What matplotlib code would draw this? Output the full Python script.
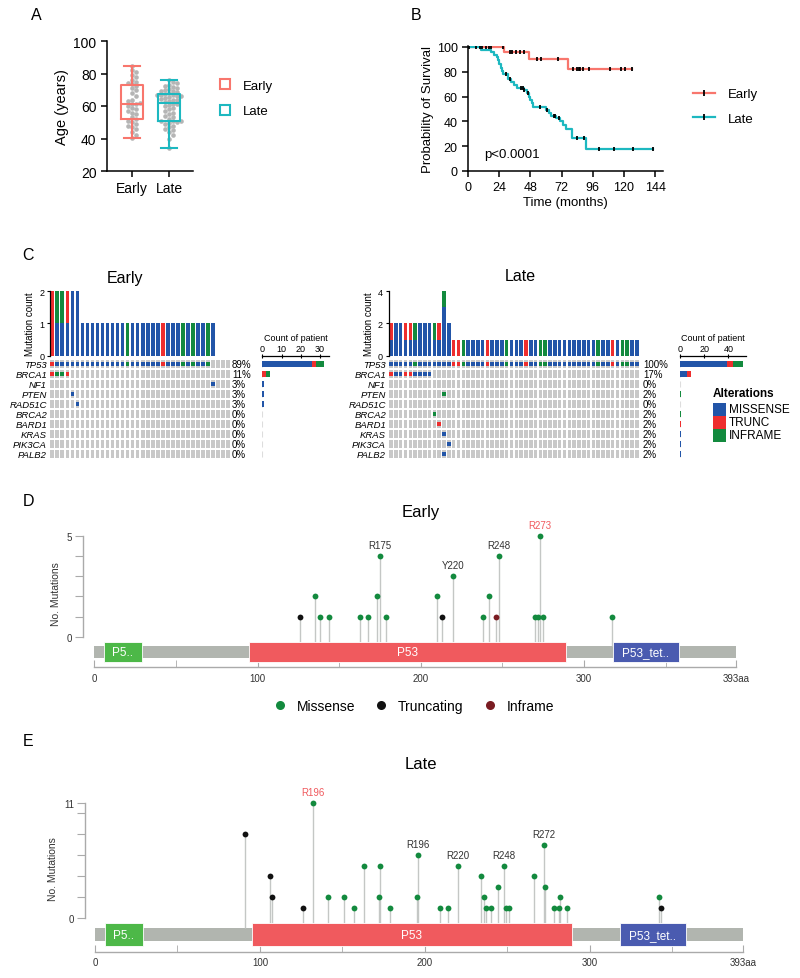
import matplotlib
matplotlib.use("Agg")
import matplotlib.pyplot as plt
from matplotlib.lines import Line2D
from matplotlib.patches import Rectangle
import numpy as np

plt.rcParams['font.family'] = ['Liberation Sans', 'DejaVu Sans']

# ---------------------------------------------------------------- data
# A: age at diagnosis
AGE_EARLY = [40.5, 42, 44, 46, 47, 48, 49, 50, 51, 52, 53, 55, 56, 57, 58, 59, 60, 61,
             61.5, 62, 63, 64, 66, 68, 70, 71, 72.5, 73.5, 74, 75, 76, 78, 79, 81, 82, 84.5]
AGE_LATE = [34, 40, 42, 44, 45, 46, 47, 48, 49, 49.5, 50, 50.5, 51,
            51, 52, 53, 54, 55, 56, 57, 58, 59, 60, 60.5, 61, 61.5,
            62.5, 63, 63.5, 64, 64.5, 65, 65.5, 66, 66, 66.5, 67, 67, 67.5,
            68, 68.5, 69, 69.5, 70, 70.5, 71, 72, 72.5, 73, 74, 75, 76]

# B: Kaplan-Meier steps (time in months, survival %)
KM_EARLY_T = [0, 28, 47, 77]
KM_EARLY_S = [100, 96.3, 90.1, 82.4]
KM_EARLY_CENS = [0.5, 6, 9, 11, 13.5, 16, 18, 27, 32, 33.5, 37, 40, 43, 53, 56.5, 69.5,
                 81, 84, 85.5, 86.5, 88.5, 93, 109, 118, 121, 126.5]
KM_LATE_T = [0, 10, 18, 20, 22, 23, 24, 25, 26, 27, 31, 33, 35, 38, 43, 45, 47, 48, 49,
             50, 60, 62, 64, 68, 71, 73, 75, 80, 91]
KM_LATE_S = [100, 97.9, 95.8, 93.7, 91.6, 89.5, 86, 83, 80.5, 78.4, 74, 71.5, 69, 67, 65,
             62.5, 60, 57, 54.5, 51.5, 49.5, 47, 44.5, 43, 40.5, 37, 33.5, 27, 18]
KM_LATE_CENS = [29, 32, 41, 42, 43, 46, 55, 61, 66, 67, 70, 84, 89, 101, 112, 127, 142]

# C: oncoprint, one character per patient (M missense, T trunc, I inframe, . none)
GENES = ["TP53", "BRCA1", "NF1", "PTEN", "RAD51C", "BRCA2", "BARD1", "KRAS", "PIK3CA", "PALB2"]
N_EARLY, N_LATE = 36, 52
EARLY_ONCO = {
    "TP53":   "TMMMMMMMMMMMMMMIMMMMMMTMMMIMIMMI....",
    "BRCA1":  "TIIT" + "." * 32,
    "NF1":    "." * 32 + "M" + "." * 3,
    "PTEN":   "....M" + "." * 31,
    "RAD51C": ".....M" + "." * 30,
}
LATE_ONCO = {
    "TP53":   "MMMMMIMMMMMMMTTIMMMMTMMMIMMMTMMIIMMMMMMMMMMIMMTMIIMM",
    "BRCA1":  "TMMTTMMMM" + "." * 43,
    "BRCA2":  "." * 9 + "I" + "." * 42,
    "BARD1":  "." * 10 + "T" + "." * 41,
    "PTEN":   "." * 11 + "I" + "." * 40,
    "KRAS":   "." * 11 + "M" + "." * 40,
    "PALB2":  "." * 11 + "M" + "." * 40,
    "PIK3CA": "." * 12 + "M" + "." * 39,
}
ALT_ORDER = ["M", "T", "I"]
ALT_NAMES = {"M": "MISSENSE", "T": "TRUNC", "I": "INFRAME"}
ALT_COLORS = {"M": "#2255A8", "T": "#EE2E2E", "I": "#138A3E"}

# D/E: TP53 lollipops (amino acid, number of mutations)
D_MISSENSE = [(135, 2), (138, 1), (144, 1), (163, 1), (168, 1), (173, 2), (175, 4), (179, 1),
              (210, 2), (220, 3), (238, 1), (242, 2), (248, 4), (270, 1), (272, 1), (273, 5),
              (275, 1), (317, 1)]
D_TRUNC = [(126, 1), (213, 1)]
D_INFRAME = [(246, 1)]
D_LABELS = [(175, "R175", False), (220, "Y220", False), (248, "R248", False), (273, "R273", True)]

E_MISSENSE = [(132, 11), (141, 2), (151, 2), (157, 1), (163, 5), (172, 2), (173, 5), (179, 1),
              (195, 2), (196, 6), (209, 1), (214, 1), (220, 5), (234, 4), (236, 2), (237, 1),
              (240, 1), (244, 3), (248, 5), (249, 1), (251, 1), (266, 4), (272, 7), (273, 3),
              (278, 1), (281, 1), (282, 2), (286, 1), (342, 2)]
E_TRUNC = [(91, 8), (106, 4), (107, 2), (126, 1), (343, 1)]
E_INFRAME = []
E_LABELS = [(132, "R196", True), (196, "R196", False), (220, "R220", False),
            (248, "R248", False), (272, "R272", False)]

DOMAINS = [(6, 29, "P5..", "#4DB848"), (95, 289, "P53", "#F05A5E"), (318, 358, "P53_tet..", "#4A5BB0")]
PROTEIN_LEN = 393

C_EARLY = "#F8766D"
C_LATE = "#1DB8C0"
LOLLI_COLORS = {"Missense": "#138A3E", "Truncating": "#111111", "Inframe": "#7A1C22"}

# ---------------------------------------------------------------- figure helpers
W, H = 800, 979
fig = plt.figure(figsize=(W / 100, H / 100), dpi=100)


def add_ax(left, top, right, bottom):
    return fig.add_axes([left / W, 1 - bottom / H, (right - left) / W, (bottom - top) / H])


def fig_text(x, y, s, **kw):
    return fig.text(x / W, 1 - y / H, s, **kw)


for lab, (x, y) in zip("ABCDE", [(36, 16), (416, 16), (28, 256), (28, 502), (28, 742)]):
    fig_text(x, y, lab, fontsize=11.5, ha="center", va="center")


def swarm(values, px_per_val, px_per_x, dot_px):
    placed, offs = [], np.zeros(len(values))
    for i in np.argsort(values):
        y = values[i] * px_per_val
        for k in range(60):
            dx = ((k + 1) // 2) * (1 if k % 2 else -1) * dot_px * 0.5
            if all((dx - px) ** 2 + (y - py) ** 2 >= dot_px ** 2 for px, py in placed):
                break
        placed.append((dx, y))
        offs[i] = dx / px_per_x
    return offs


# ---------------------------------------------------------------- A: age boxplot
ax = add_ax(107, 42, 193, 172)
ax.set_xlim(0.324, 2.65)
ax.set_ylim(20, 100)
for pos, vals, col in [(1, AGE_EARLY, C_EARLY), (2, AGE_LATE, C_LATE)]:
    vals = np.array(vals)
    off = swarm(vals, 130 / 80, 37, 4.0)
    ax.plot(pos + off, vals, "o", ms=3.3, color="#B5B5B5", mec="none", zorder=1)
    ax.boxplot([vals], positions=[pos], widths=0.62, whis=(0, 100), showfliers=False,
               capwidths=0.45,
               boxprops=dict(color=col, lw=1.5), whiskerprops=dict(color=col, lw=1.5),
               capprops=dict(color=col, lw=1.5), medianprops=dict(color=col, lw=1.5))
ax.set_xticks([1, 2])
ax.set_xticklabels(["Early", "Late"], fontsize=10)
ax.set_yticks([20, 40, 60, 80, 100])
ax.tick_params(axis="y", labelsize=10)
ax.set_ylabel("Age (years)", fontsize=10.5, labelpad=3)
for s in ["top", "right"]:
    ax.spines[s].set_visible(False)
for s in ["left", "bottom"]:
    ax.spines[s].set_linewidth(1.1)
ax.tick_params(width=1.1, length=4)
fig.legend(handles=[Line2D([], [], marker="s", ls="none", mfc="none", mec=c, mew=1.5, ms=7)
                    for c in (C_EARLY, C_LATE)],
           labels=["Early", "Late"], loc="center left", bbox_to_anchor=(205 / W, 1 - 99.5 / H),
           frameon=False, fontsize=9.5, labelspacing=1.0, handletextpad=0.4, borderpad=0)

# ---------------------------------------------------------------- B: Kaplan-Meier
ax = add_ax(468, 47, 663, 172)
ax.set_xlim(0, 150)
ax.set_ylim(0, 100.8)


def km(ax, t, s, cens, col):
    tt = list(t) + [max(cens)]
    ss = list(s) + [s[-1]]
    ax.step(tt, ss, where="post", color=col, lw=1.6, zorder=2)
    idx = np.searchsorted(t, cens, side="right") - 1
    ax.plot(cens, np.array(s)[idx], ls="none", marker="|", ms=3.5, mew=1.3, color="black", zorder=3)


km(ax, KM_EARLY_T, KM_EARLY_S, KM_EARLY_CENS, C_EARLY)
km(ax, KM_LATE_T, KM_LATE_S, KM_LATE_CENS, C_LATE)
ax.set_xticks(range(0, 145, 24))
ax.set_yticks(range(0, 101, 20))
ax.tick_params(labelsize=9, width=1.1, length=4)
ax.set_xlabel("Time (months)", fontsize=9.5, labelpad=2)
ax.set_ylabel("Probability of Survival", fontsize=9.5, labelpad=2)
for s in ["top", "right"]:
    ax.spines[s].set_visible(False)
for s in ["left", "bottom"]:
    ax.spines[s].set_linewidth(1.1)
ax.text(0.085, 0.135, "p<0.0001", transform=ax.transAxes, fontsize=9.5, va="center")
fig.legend(handles=[Line2D([], [], color=c, lw=1.6, marker="|", mec="black", mew=1.3, ms=4)
                    for c in (C_EARLY, C_LATE)],
           labels=["Early", "Late"], loc="center left", bbox_to_anchor=(686 / W, 1 - 107.5 / H),
           frameon=False, fontsize=9.5, labelspacing=0.95, handlelength=1.7, handletextpad=1.0,
           numpoints=1, borderpad=0)


# ---------------------------------------------------------------- C: oncoprints
def onco_matrix(onco, n):
    return [onco.get(g, "." * n) for g in GENES]


def draw_onco(onco, n, x_left, x_right, ymax, yticks, count_left, count_right, count_xmax,
              count_ticks, label_x, pct_x, title, title_xy):
    rows = onco_matrix(onco, n)
    cols = np.arange(1, n + 1)
    # stacked mutation counts on top
    axb = add_ax(x_left, 292, x_right, 356.7)
    axb.set_xlim(0.5, n + 0.5)
    axb.set_ylim(0, ymax)
    bottom = np.zeros(n)
    for a in ALT_ORDER:
        h = np.array([sum(r[j] == a for r in rows) for j in range(n)])
        axb.bar(cols, h, bottom=bottom, width=0.74, color=ALT_COLORS[a], lw=0)
        bottom += h
    axb.set_xticks([])
    axb.set_yticks(yticks)
    axb.tick_params(axis="y", labelsize=6.5, length=2.5, width=0.8, pad=1.5)
    for s in ["top", "right", "bottom"]:
        axb.spines[s].set_visible(False)
    axb.spines["left"].set_linewidth(0.9)
    axb.set_ylabel("Mutation count", fontsize=7, labelpad=3)
    fig_text(*title_xy, title, fontsize=11.5, ha="center", va="center")

    # grid of patients x genes
    axh = add_ax(x_left, 360, x_right, 460)
    axh.set_xlim(0.5, n + 0.5)
    axh.set_ylim(len(GENES) - 0.5, -0.5)
    axh.axis("off")
    for i, (g, r) in enumerate(zip(GENES, rows)):
        axh.bar(cols, 0.84, bottom=i - 0.42, width=0.74, color="#C8C8C8", lw=0)
        for a in ALT_ORDER:
            hit = [j + 1 for j in range(n) if r[j] == a]
            if hit:
                axh.bar(hit, 0.36, bottom=i - 0.18, width=0.74, color=ALT_COLORS[a], lw=0)
        k = sum(c != "." for c in r)
        fig_text(label_x, 365.5 + 10 * i, g, fontsize=6.8, style="italic", ha="right", va="center")
        fig_text(pct_x, 365.5 + 10 * i, f"{round(100 * k / n)}%", fontsize=7, ha="left", va="center")

    # per-gene patient counts
    axc = add_ax(count_left, 357, count_right, 460)
    axc.set_xlim(0, count_xmax)
    axc.set_ylim(len(GENES) - 0.5, -0.8)
    left = np.zeros(len(GENES))
    for a in ALT_ORDER:
        w = np.array([r.count(a) for r in rows])
        axc.barh(np.arange(len(GENES)), w, left=left, height=0.62, color=ALT_COLORS[a], lw=0)
        left += w
    axc.vlines(np.zeros(len(GENES)), np.arange(len(GENES)) - 0.3, np.arange(len(GENES)) + 0.3,
               color="#DDDDDD", lw=0.8, zorder=0)
    axc.xaxis.tick_top()
    axc.xaxis.set_label_position("top")
    axc.set_xticks(count_ticks)
    axc.tick_params(axis="x", labelsize=6.5, length=2.5, width=0.8, pad=1, direction="inout")
    axc.set_yticks([])
    for s in ["bottom", "right", "left"]:
        axc.spines[s].set_visible(False)
    axc.spines["top"].set_linewidth(0.9)
    axc.set_xlabel("Count of patient", fontsize=6.5, labelpad=3)


draw_onco(EARLY_ONCO, N_EARLY, 49.8, 230.5, 2, [0, 1, 2], 262.3, 329, 34.6, [0, 10, 20, 30],
          47, 232, "Early", (125, 278))
draw_onco(LATE_ONCO, N_LATE, 388.6, 639.2, 4, [0, 2, 4], 680, 746, 54.5, [0, 20, 40],
          386, 643, "Late", (520, 277))

fig_text(713, 394, "Alterations", fontsize=8.5, fontweight="bold", ha="left", va="center")
for k, a in enumerate(ALT_ORDER):
    yc = 410 + 13 * k
    fig.patches.append(Rectangle((713 / W, 1 - (yc + 6.5) / H), 13 / W, 13 / H,
                                 transform=fig.transFigure, color=ALT_COLORS[a], lw=0))
    fig_text(729, yc, ALT_NAMES[a], fontsize=8.5, ha="left", va="center")


# ---------------------------------------------------------------- D/E: lollipops
def lollipop(top_px, bottom_px, x0_px, x393_px, yaxis_px, y0_px, ytop_px, ymax, yticks,
             bb_px, dom_px, missense, trunc, inframe, labels, title, title_y):
    left_px, right_px = 60, 760
    ax = add_ax(left_px, top_px, right_px, bottom_px)
    xs = PROTEIN_LEN / (x393_px - x0_px)
    ys = ymax / (y0_px - ytop_px)
    ax.set_xlim((left_px - x0_px) * xs, (right_px - x0_px) * xs)
    ax.set_ylim(-(bottom_px - y0_px) * ys, (y0_px - top_px) * ys)
    to_y = lambda py: (y0_px - py) * ys

    bb_top, bb_bot = to_y(bb_px[0]), to_y(bb_px[1])
    d_top, d_bot = to_y(dom_px[0]), to_y(dom_px[1])
    ax.add_patch(Rectangle((0, bb_bot), PROTEIN_LEN, bb_top - bb_bot, color="#B1B5AF", lw=0, zorder=1))
    for start, end, name, col in DOMAINS:
        ax.add_patch(Rectangle((start, d_bot), end - start, d_top - d_bot, facecolor=col,
                               edgecolor="white", lw=0.6, alpha=1, zorder=3))
        ax.text((start + end) / 2, (d_top + d_bot) / 2, name, color="white", fontsize=8.5,
                ha="center", va="center", zorder=4)

    for kind, pts in [("Missense", missense), ("Truncating", trunc), ("Inframe", inframe)]:
        if not pts:
            continue
        aa = np.array([p[0] for p in pts])
        cnt = np.array([p[1] for p in pts])
        ax.vlines(aa, bb_top, cnt, color="#C4C7C5", lw=1.0, zorder=2)
        ax.plot(aa, cnt, "o", ms=4.2, color=LOLLI_COLORS[kind], mec="none", zorder=5)

    allpts = dict((p[0], p[1]) for p in missense + trunc + inframe)
    for aa, txt, hot in labels:
        ax.annotate(txt, (aa, allpts[aa]), xytext=(0, 8), textcoords="offset points",
                    ha="center", va="center", fontsize=7,
                    color="#F05A5E" if hot else "#333333")

    for s in ["top", "right"]:
        ax.spines[s].set_visible(False)
    ax.spines["left"].set_position(("data", -(x0_px - yaxis_px) * xs))
    ax.spines["left"].set_bounds(0, ymax)
    ax.spines["bottom"].set_bounds(0, PROTEIN_LEN)
    for s in ["left", "bottom"]:
        ax.spines[s].set_color("#AAAAAA")
        ax.spines[s].set_linewidth(1.0)
    ax.set_yticks(yticks)
    ax.set_yticklabels([str(v) if v in (0, ymax) else "" for v in yticks])
    ax.tick_params(axis="y", labelsize=7, length=6, color="#AAAAAA", labelcolor="#333333", pad=2)
    ax.set_xticks([0, 100, 200, 300, PROTEIN_LEN])
    ax.set_xticklabels(["0", "100", "200", "300", "393aa"])
    ax.set_xticks([50, 150, 250, 350], minor=True)
    ax.tick_params(axis="x", which="both", direction="in", length=5, color="#AAAAAA",
                   labelsize=7, labelcolor="#333333", pad=4)
    ax.set_ylabel("No. Mutations", fontsize=7.5, color="#333333", labelpad=4)
    fig_text(421, title_y, title, fontsize=12, ha="center", va="center")
    return ax


lollipop(520, 668, 94.3, 735.7, 83.3, 638, 536.7, 5, [0, 1, 2, 3, 4, 5],
         (646.7, 659), (642.7, 663.3), D_MISSENSE, D_TRUNC, D_INFRAME, D_LABELS, "Early", 512)
fig.legend(handles=[Line2D([], [], marker="o", ls="none", ms=6.5, mec="none", color=LOLLI_COLORS[k])
                    for k in LOLLI_COLORS],
           labels=list(LOLLI_COLORS), loc="center", bbox_to_anchor=(410 / W, 1 - 707 / H), ncol=3,
           frameon=False, fontsize=10, handletextpad=0.2, columnspacing=0.9, borderpad=0)

lollipop(785, 952.7, 95, 743.3, 85, 919, 804, 11, [0, 2, 4, 6, 8, 10, 11],
         (929.3, 942.3), (924.3, 947.3), E_MISSENSE, E_TRUNC, E_INFRAME, E_LABELS, "Late", 765)

fig.savefig("out.png", dpi=100)
